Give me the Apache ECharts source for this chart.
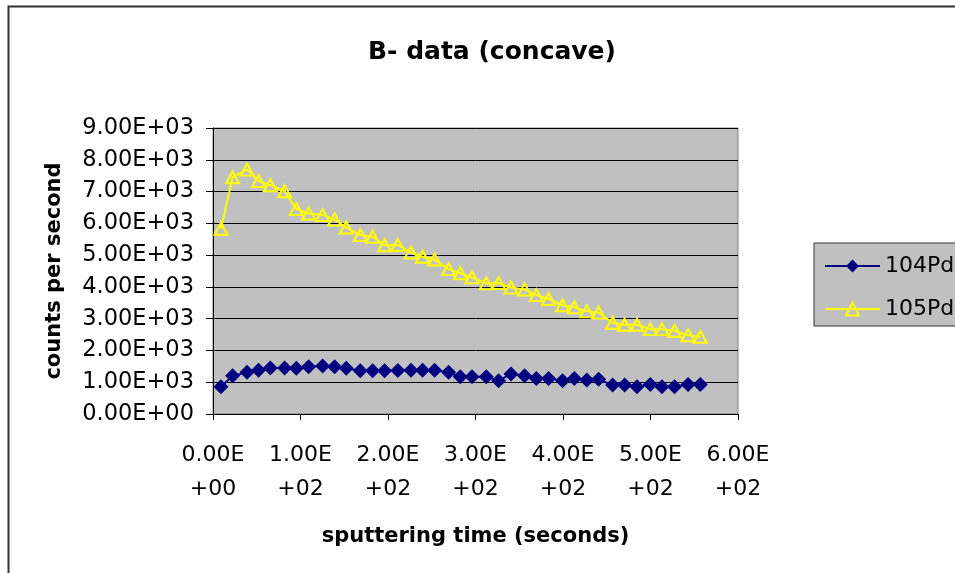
<!DOCTYPE html>
<html>
<head>
<meta charset="utf-8">
<script src="https://cdn.jsdelivr.net/npm/echarts@6/dist/echarts.min.js"></script>
<style>
  html, body { margin: 0; padding: 0; background: #fff; }
</style>
</head>
<body>
<div id="chartB" style="width: 955px;height:573px;"></div>
<script>
  // 溅射时间(秒)
  var times = [9.1, 22.4, 38.9, 52.1, 65.5, 81.8, 95.2, 109.3, 125.3, 139.0, 152.3, 168.3, 182.4, 196.1,
    211.2, 226.3, 239.5, 253.3, 269.3, 282.6, 296.0, 312.3, 326.4, 340.6, 356.1, 369.5, 383.5, 399.5,
    412.9, 427.2, 440.7, 456.7, 470.4, 484.6, 499.8, 513.1, 527.5, 542.9, 556.9]
  var pd104 = [860, 1200, 1310, 1380, 1450, 1450, 1440, 1490, 1510, 1490, 1440, 1360, 1360, 1360,
    1370, 1380, 1380, 1380, 1310, 1170, 1170, 1170, 1050, 1260, 1200, 1120, 1120, 1050,
    1120, 1070, 1090, 910, 910, 860, 930, 860, 860, 930, 930]
  var pd105 = [5830, 7450, 7690, 7330, 7200, 7010, 6450, 6310, 6260, 6120, 5870, 5630, 5580, 5310,
    5320, 5080, 4950, 4860, 4560, 4430, 4300, 4110, 4120, 3980, 3920, 3740, 3620, 3420,
    3360, 3230, 3190, 2870, 2810, 2810, 2670, 2670, 2620, 2480, 2430]
  var seriesNames = ['104Pd', '105Pd']

  var font = 'DejaVu Sans'

  // 1000 -> "1.00E+03"
  function sci(v) {
    var parts = Number(v).toExponential(2).split('e')
    var exp = parseInt(parts[1], 10)
    var sign = exp < 0 ? '-' : '+'
    exp = Math.abs(exp)
    return parts[0] + 'E' + sign + (exp < 10 ? '0' + exp : exp)
  }

  function pairs(xs, ys) {
    return xs.map(function (x, i) { return [x, ys[i]] })
  }

  var chart = echarts.init(document.getElementById('chartB'))
  var option = {
    animation: false,
    backgroundColor: '#ffffff',
    title: {
      text: 'B- data (concave)',
      left: 487,
      top: 35,
      textAlign: 'center',
      textStyle: {
        fontFamily: font,
        fontWeight: 'bold',
        fontSize: 25,
        color: '#000'
      }
    },
    graphic: [{
      type: 'rect',
      z: -10,
      shape: { x: 8.5, y: 6.5, width: 1000, height: 600 },
      style: { fill: 'none', stroke: '#333', lineWidth: 2 }
    }],
    legend: {
      orient: 'vertical',
      left: 814,
      top: 243,
      padding: [12, 200, 6, 10],
      itemWidth: 55,
      itemHeight: 16,
      itemGap: 21,
      backgroundColor: '#c0c0c0',
      borderColor: '#333',
      borderWidth: 1,
      textStyle: {
        fontFamily: font,
        fontSize: 22,
        color: '#000'
      },
      data: seriesNames
    },
    grid: {
      left: 213,
      right: 217,
      top: 128,
      bottom: 159,
      outerBoundsMode: 'none',
      show: true,
      backgroundColor: '#c0c0c0',
      borderColor: '#808080',
      borderWidth: 1
    },
    xAxis: {
      type: 'value',
      min: 0,
      max: 600,
      interval: 100,
      name: 'sputtering time (seconds)',
      nameLocation: 'middle',
      nameGap: 112,
      nameTextStyle: {
        fontFamily: font,
        fontWeight: 'bold',
        fontSize: 21,
        color: '#000'
      },
      axisLine: { lineStyle: { color: '#000', width: 1 } },
      axisTick: { show: true, inside: false, length: 6, lineStyle: { color: '#000' } },
      axisLabel: {
        margin: 24,
        fontFamily: font,
        fontSize: 22,
        lineHeight: 34,
        color: '#000',
        formatter: function (v) {
          var s = sci(v)
          return s.slice(0, 5) + '\n' + s.slice(5)
        }
      },
      splitLine: { show: false }
    },
    yAxis: {
      type: 'value',
      min: 0,
      max: 9000,
      interval: 1000,
      name: 'counts per second',
      nameLocation: 'middle',
      nameGap: 148,
      nameRotate: 90,
      nameTextStyle: {
        fontFamily: font,
        fontWeight: 'bold',
        fontSize: 21,
        color: '#000'
      },
      axisLine: { show: true, lineStyle: { color: '#000', width: 1 } },
      axisTick: { show: true, inside: false, length: 7, lineStyle: { color: '#000' } },
      axisLabel: {
        margin: 19,
        fontFamily: font,
        fontSize: 22.5,
        color: '#000',
        formatter: sci
      },
      splitLine: { show: true, lineStyle: { color: '#000', width: 1 } }
    },
    series: [{
      name: seriesNames[0],
      type: 'line',
      data: pairs(times, pd104),
      symbol: 'diamond',
      symbolSize: 15,
      lineStyle: { color: '#000080', width: 2 },
      itemStyle: { color: '#000080' },
      z: 3
    }, {
      name: seriesNames[1],
      type: 'line',
      data: pairs(times, pd105),
      symbol: 'triangle',
      symbolSize: [13, 12],
      lineStyle: { color: '#ffff00', width: 2 },
      itemStyle: { color: 'rgba(0,0,0,0)', borderColor: '#ffff00', borderWidth: 2 },
      z: 3
    }]
  }
  chart.setOption(option)
</script>
</body>
</html>
